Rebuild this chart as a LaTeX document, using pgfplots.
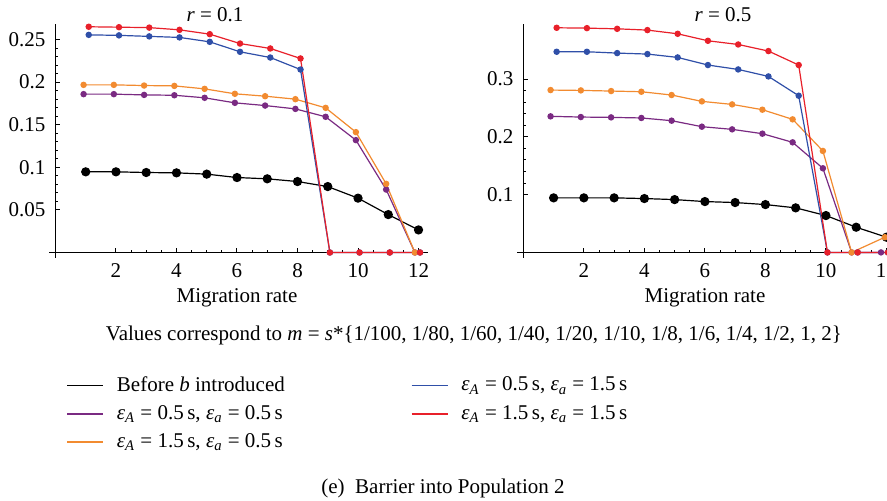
\documentclass[border=0pt]{standalone}
\usepackage{pgfplots}
\pgfplotsset{compat=1.18}
\usepackage{fontspec}
\setmainfont{Liberation Serif}
\definecolor{cblack}{RGB}{0,0,0}
\definecolor{cpurple}{RGB}{122,42,130}
\definecolor{corange}{RGB}{242,139,48}
\definecolor{cblue}{RGB}{47,79,168}
\definecolor{cred}{RGB}{232,32,42}
\newcommand{\eps}[1]{\textit{ε}\textsubscript{\textit{#1}}}
\newcommand{\fs}{\fontsize{10.5pt}{12pt}\selectfont}
\pgfplotsset{
  common/.style={
    scale only axis, width=189.1pt, height=116.7pt,
    axis lines=middle, axis line style={-, line width=0.6pt},
    every inner x axis line/.append style={-}, every inner y axis line/.append style={-},
    xmin=-0.2, xmax=12.3, clip=false,
    xtick={2,4,...,12}, minor x tick num=3, minor y tick num=4,
    tick align=inside, major tick length=2.2pt, minor tick length=1.2pt,
    tick style={line width=0.5pt, black},
    /pgf/number format/assume math mode=true,
    yticklabel style={/pgf/number format/fixed, /pgf/number format/precision=2, xshift=-1.5pt},
    xticklabel style={yshift=-2pt},
    tick label style={font=\fontsize{10.5pt}{12pt}\selectfont},
    every axis plot/.append style={line width=0.6pt},
  },
  pblack/.style={cblack, mark=*, mark size=2pt},
  pcol/.style={#1, mark=*, mark size=1.3pt},
}
\begin{document}
\begin{tikzpicture}
% left panel
\begin{axis}[common, at={(24.7pt,121.2pt)}, anchor=south west,
  ymin=-0.006, ymax=0.268, ytick={0.05,0.1,...,0.26},
  legend columns=2,
  legend style={draw=none, fill=none, at={(0.044,-0.49)}, anchor=north west,
    font=\fs, row sep=1.6pt, inner sep=0pt,
    /tikz/every odd column/.append style={column sep=4.5pt},
    /tikz/every even column/.append style={column sep=0pt}},
  legend cell align=left,
  legend image code/.code={\draw[#1, line width=0.75pt] (0pt,0pt) -- (18pt,0pt);},
]
\addlegendimage{cblack}\addlegendentry{\makebox[145pt][l]{Before \textit{b} introduced}}
\addlegendimage{cblue}\addlegendentry{\eps{A} = 0.5\,s, \eps{a} = 1.5\,s}
\addlegendimage{cpurple}\addlegendentry{\makebox[145pt][l]{\eps{A} = 0.5\,s, \eps{a} = 0.5\,s}}
\addlegendimage{cred}\addlegendentry{\eps{A} = 1.5\,s, \eps{a} = 1.5\,s}
\addlegendimage{corange}\addlegendentry{\makebox[145pt][l]{\eps{A} = 1.5\,s, \eps{a} = 0.5\,s}}
\addplot[pblack, forget plot] coordinates {(1,0.0947)(2,0.0947)(3,0.0939)(4,0.0935)(5,0.092)(6,0.088)(7,0.0865)(8,0.0833)(9,0.0774)(10,0.0638)(11,0.0445)(12,0.0265)};
\addplot[pcol=cpurple, forget plot] coordinates {(0.93,0.1859)(1.93,0.1859)(2.93,0.185)(3.93,0.1846)(4.93,0.1816)(5.93,0.1757)(6.93,0.1725)(7.93,0.1686)(8.93,0.1593)(9.93,0.1319)(10.93,0.0739)(11.88,0)};
\addplot[pcol=corange, forget plot] coordinates {(0.93,0.1968)(1.93,0.1968)(2.93,0.196)(3.93,0.1956)(4.93,0.1921)(5.93,0.1863)(6.93,0.1835)(7.93,0.180)(8.93,0.1698)(9.93,0.1413)(10.93,0.0806)(11.88,0)};
\addplot[pcol=cblue, forget plot] coordinates {(1.1,0.2555)(2.1,0.2549)(3.1,0.2537)(4.1,0.2525)(5.1,0.2473)(6.1,0.2356)(7.1,0.2289)(8.1,0.2148)(9.07,0)(10.05,0)(11.05,0)(12.05,0)};
\addplot[pcol=cred, forget plot] coordinates {(1.1,0.265)(2.1,0.2645)(3.1,0.264)(4.1,0.2614)(5.1,0.2563)(6.1,0.2453)(7.1,0.2395)(8.1,0.2278)(9.07,0)(10.05,0)(11.05,0)(12.05,0)};
\end{axis}
% right panel
\begin{axis}[common, at={(258.65pt,121.2pt)}, anchor=south west,
  ymin=-0.009, ymax=0.395, ytick={0.1,0.2,0.3},
]
\addplot[pblack] coordinates {(1,0.0944)(2,0.0944)(3,0.0944)(4,0.0932)(5,0.0914)(6,0.088)(7,0.0863)(8,0.0828)(9,0.0771)(10,0.0638)(11,0.0436)(12,0.0263)};
\addplot[pcol=cpurple] coordinates {(0.9,0.2355)(1.9,0.2343)(2.9,0.2337)(3.9,0.2327)(4.9,0.228)(5.9,0.2176)(6.9,0.213)(7.9,0.2055)(8.9,0.1905)(9.9,0.1456)(10.85,0)(11.82,0)};
\addplot[pcol=corange] coordinates {(0.9,0.281)(1.9,0.2804)(2.9,0.2793)(3.9,0.2781)(4.9,0.2724)(5.9,0.2614)(6.9,0.2562)(7.9,0.247)(8.9,0.2303)(9.9,0.1756)(10.85,0)(11.95,0.0263)};
\addplot[pcol=cblue] coordinates {(1.1,0.3473)(2.1,0.3473)(3.1,0.345)(4.1,0.3433)(5.1,0.3375)(6.1,0.3243)(7.1,0.3167)(8.1,0.3046)(9.1,0.2712)(10.05,0)(11.05,0)(12.05,0)};
\addplot[pcol=cred] coordinates {(1.1,0.3888)(2.1,0.3882)(3.1,0.387)(4.1,0.3848)(5.1,0.3784)(6.1,0.3663)(7.1,0.3599)(8.1,0.3485)(9.1,0.3243)(10.05,0)(11.05,0)(12.05,0)};
\end{axis}
\node[font=\fs] at (107.5pt,242.5pt) {\textit{r} = 0.1};
\node[font=\fs] at (361.5pt,242.5pt) {\textit{r} = 0.5};
\node[font=\fs] at (118.5pt,101pt) {Migration rate};
\node[font=\fs] at (352.5pt,101pt) {Migration rate};
\node[font=\fs] at (237pt,82.5pt) {Values correspond to \textit{m} = \textit{s}*\{1/100, 1/80, 1/60, 1/40, 1/20, 1/10, 1/8, 1/6, 1/4, 1/2, 1, 2\}};
\node[font=\fs] at (221.5pt,6pt) {(e)\ \ Barrier into Population 2};
\pgfresetboundingbox
\path[use as bounding box] (0pt,0pt) rectangle (443.5pt,250pt);
\end{tikzpicture}
\end{document}
